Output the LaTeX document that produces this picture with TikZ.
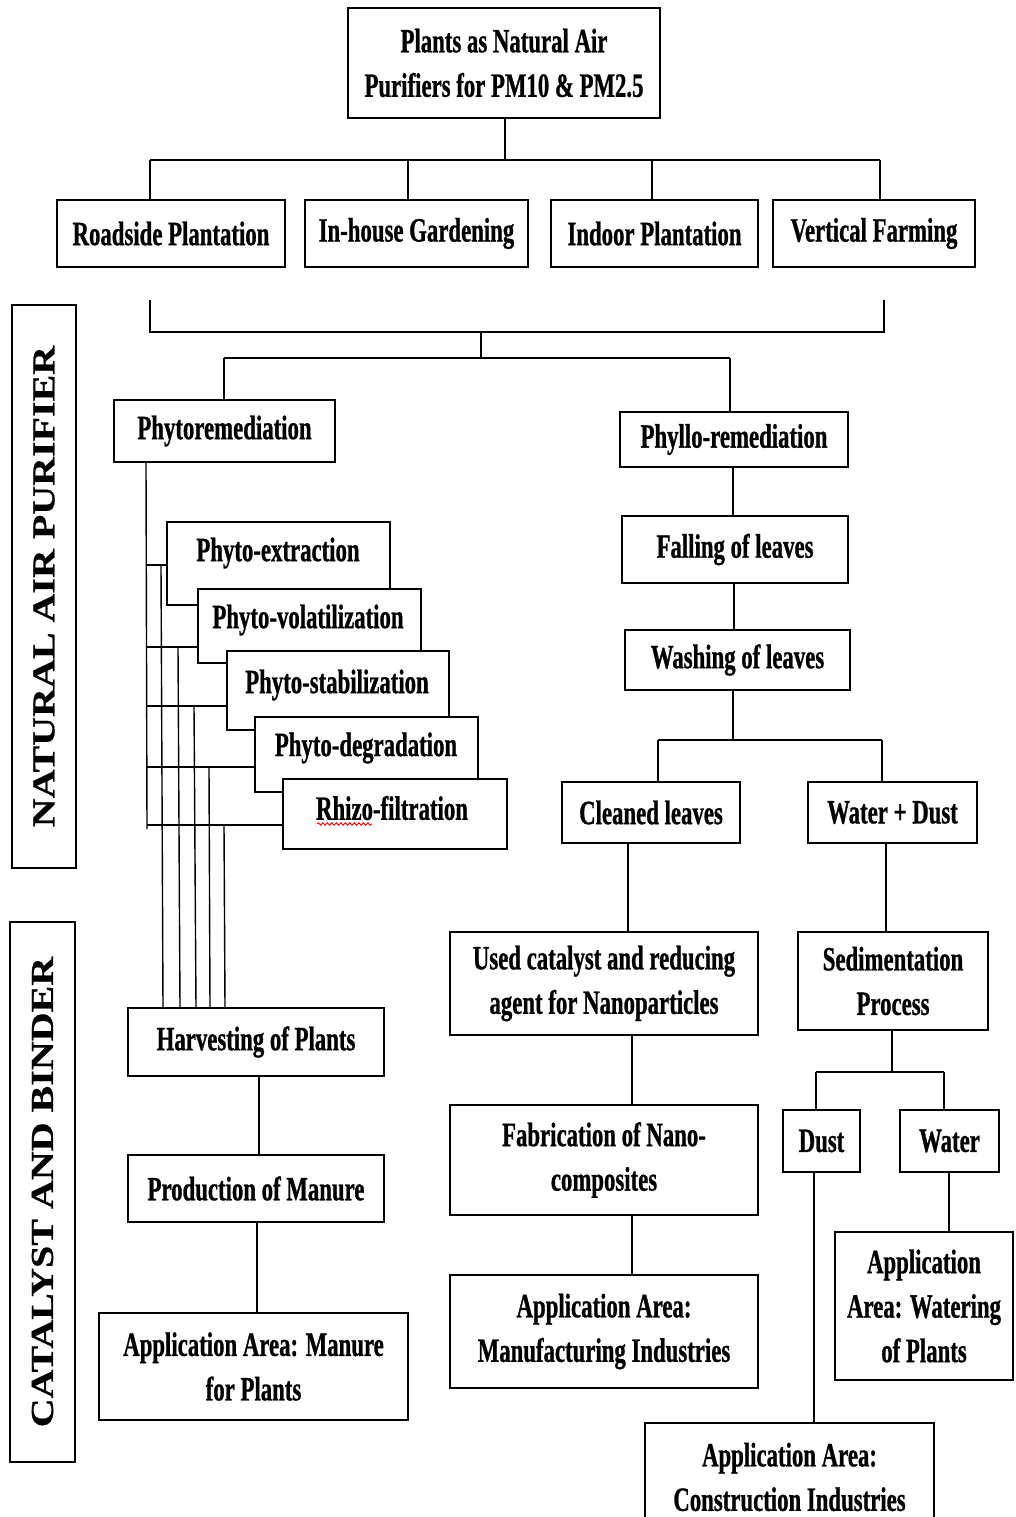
\documentclass[tikz,border=0pt]{standalone}
\usepackage{fontspec}
\setmainfont{Liberation Serif}
\newfontfamily\cf[FakeStretch=0.67,FakeBold=0.8]{Liberation Serif}
\newfontfamily\vf[FakeStretch=1.25,FakeBold=0.6]{Liberation Serif}
\usetikzlibrary{decorations.pathmorphing}
\tikzset{
  bx/.style={draw, line width=1.8pt, fill=white, align=center, inner sep=0pt,
    font=\cf\bfseries\fontsize{34}{44.5}\selectfont},
  txt/.style={align=center, inner sep=0pt, font=\cf\bfseries\fontsize{34}{44.5}\selectfont},
  sidebox/.style={draw, line width=1.8pt, rotate=90, inner sep=0pt,
    font=\vf\bfseries\fontsize{32}{36}\selectfont},
  ln/.style={line width=1.4pt}
}
\begin{document}
\begin{tikzpicture}[x=1pt,y=-1pt]
\useasboundingbox[fill=white] (0,0) rectangle (1015,1517);
\clip (0,0) rectangle (1015,1517);

% side labels
\node[sidebox, minimum width=563pt, minimum height=64pt] (nap) at (44,586.5) {NATURAL AIR PURIFIER};
\node[sidebox, minimum width=540pt, minimum height=65pt] (cab) at (42.5,1192) {CATALYST AND BINDER};

% top
\node[bx, minimum width=312pt, minimum height=110pt] (top) at (504,63) {Plants as Natural Air\\Purifiers for PM10 \& PM2.5};
\node[bx, minimum width=228pt, minimum height=67pt] (rp) at (171,233.5) {Roadside Plantation};
\node[bx, minimum width=223pt, minimum height=67pt] (ihg) at (416.5,233.5) {In-house Gardening};
\node[bx, minimum width=207pt, minimum height=67pt] (ip) at (654.5,233.5) {Indoor Plantation};
\node[bx, minimum width=202pt, minimum height=67pt] (vfm) at (874,233.5) {Vertical Farming};

\coordinate (b0) at (505,160);
\coordinate (b1) at (150,160);
\coordinate (b2) at (408,160);
\coordinate (b3) at (652,160);
\coordinate (b4) at (880,160);
\draw[ln] (top.south -| b0) -- (b0);
\draw[ln] (b1) -- (b4);
\draw[ln] (b1) -- (b1 |- rp.north);
\draw[ln] (b2) -- (b2 |- ihg.north);
\draw[ln] (b3) -- (b3 |- ip.north);
\draw[ln] (b4) -- (b4 |- vfm.north);

% bracket
\coordinate (k1) at (150,300);
\coordinate (k2) at (884,300);
\coordinate (k3) at (481,332);
\coordinate (k4) at (481,358);
\coordinate (k5) at (224,358);
\coordinate (k6) at (730,358);
\draw[ln] (k1) -- (150,332) -- (884,332) -- (k2);
\draw[ln] (k3) -- (k4);
\draw[ln] (k5) -- (k6);

\node[bx, minimum width=221pt, minimum height=62pt] (phr) at (224.5,431) {Phytoremediation};
\node[bx, minimum width=228pt, minimum height=55pt] (phl) at (734,439.5) {Phyllo-remediation};
\draw[ln] (k5) -- (k5 |- phr.north);
\draw[ln] (k6) -- (k6 |- phl.north);

% phyllo chain
\node[bx, minimum width=226pt, minimum height=67pt] (fall) at (735,549.5) {Falling of leaves};
\node[bx, minimum width=225pt, minimum height=60pt] (wash) at (737.5,660) {Washing of leaves};
\node[bx, minimum width=178pt, minimum height=61pt] (clean) at (651,812.5) {Cleaned leaves};
\node[bx, minimum width=169pt, minimum height=61pt] (wd) at (892.5,812.5) {Water + Dust};
\node[bx, minimum width=308pt, minimum height=103pt] (cat) at (604,983.5) {Used catalyst and reducing\\agent for Nanoparticles};
\node[bx, minimum width=308pt, minimum height=110pt] (fab) at (604,1160) {Fabrication of Nano-\\composites};
\node[bx, minimum width=308pt, minimum height=113pt] (man) at (604,1331.5) {Application Area:\\Manufacturing Industries};
\node[bx, minimum width=190pt, minimum height=98pt] (sed) at (893,981) {Sedimentation\\Process};
\node[bx, minimum width=77pt, minimum height=62pt] (dust) at (821.5,1141) {Dust};
\node[bx, minimum width=99pt, minimum height=62pt] (water) at (949.5,1141) {Water};
\node[bx, minimum width=178pt, minimum height=148pt] (aw) at (924,1306) {Application\\Area: Watering\\of Plants};
\node[bx, minimum width=289pt, minimum height=108pt] (con) at (789.5,1477) {Application Area:\\Construction Industries};

\draw[ln] (phl.south -| 733,0) -- (fall.north -| 733,0);
\draw[ln] (fall.south -| 734,0) -- (wash.north -| 734,0);
\coordinate (w0) at (733,740);
\coordinate (w1) at (658,740);
\coordinate (w2) at (882,740);
\draw[ln] (wash.south -| w0) -- (w0);
\draw[ln] (w1) -- (w2);
\draw[ln] (w1) -- (w1 |- clean.north);
\draw[ln] (w2) -- (w2 |- wd.north);
\draw[ln] (clean.south -| 628,0) -- (cat.north -| 628,0);
\draw[ln] (cat.south -| 632,0) -- (fab.north -| 632,0);
\draw[ln] (fab.south -| 632,0) -- (man.north -| 632,0);
\draw[ln] (wd.south -| 886,0) -- (sed.north -| 886,0);
\coordinate (s0) at (892,1072);
\coordinate (s1) at (816,1072);
\coordinate (s2) at (944,1072);
\draw[ln] (sed.south -| s0) -- (s0);
\draw[ln] (s1) -- (s2);
\draw[ln] (s1) -- (s1 |- dust.north);
\draw[ln] (s2) -- (s2 |- water.north);
\draw[ln] (water.south -| 949,0) -- (aw.north -| 949,0);
\draw[ln] (dust.south -| 814,0) -- (con.north -| 814,0);

% phyto stack
\node[bx, minimum width=223pt, minimum height=83pt] (pe) at (278.5,563.5) {};
\node[txt] (pet) at (278,553) {Phyto-extraction};
\node[bx, minimum width=223pt, minimum height=74pt] (pv) at (309.5,626) {};
\node[txt] (pvt) at (308,620) {Phyto-volatilization};
\node[bx, minimum width=222pt, minimum height=79pt] (ps) at (338,690.5) {};
\node[txt] (pst) at (337,685) {Phyto-stabilization};
\node[bx, minimum width=223pt, minimum height=75pt] (pd) at (366.5,754.5) {};
\node[txt] (pdt) at (366,748) {Phyto-degradation};
\node[bx, minimum width=224pt, minimum height=70pt] (rh) at (395,814) {};
\node[txt] (rht) at (392,808) {Rhizo-filtration};
\draw[red, line width=0.9pt, decorate, decoration={snake, amplitude=1.3pt, segment length=4.5pt}] (317,824) -- (372,824);

\node[bx, minimum width=256pt, minimum height=68pt] (harv) at (256,1042) {Harvesting of Plants};
\node[bx, minimum width=256pt, minimum height=67pt] (prod) at (256,1188.5) {Production of Manure};
\node[bx, minimum width=309pt, minimum height=107pt] (am) at (253.5,1366.5) {Application Area: Manure\\for Plants};

\coordinate (t0) at (147,829);
\draw[ln] (phr.south -| 146,0) -- (t0);
\draw[ln] (147,565) -- (pe.west |- 0,565);
\draw[ln] (147,647) -- (pv.west |- 0,647);
\draw[ln] (147,706) -- (ps.west |- 0,706);
\draw[ln] (147,767) -- (pd.west |- 0,767);
\draw[ln] (147,825) -- (rh.west |- 0,825);
\draw[ln] (161,565) -- (harv.north -| 163,0);
\draw[ln] (178,647) -- (harv.north -| 180,0);
\draw[ln] (194,706) -- (harv.north -| 196,0);
\draw[ln] (209,767) -- (harv.north -| 210,0);
\draw[ln] (224,825) -- (harv.north -| 225,0);
\draw[ln] (harv.south -| 259,0) -- (prod.north -| 259,0);
\draw[ln] (prod.south -| 257,0) -- (am.north -| 257,0);
\end{tikzpicture}
\end{document}
